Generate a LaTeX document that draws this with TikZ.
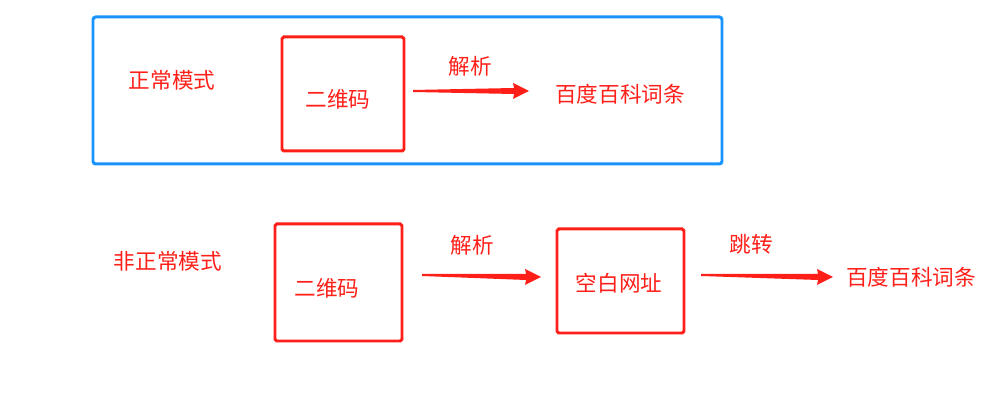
\documentclass[tikz,border=0pt]{standalone}
\usepackage{fontspec}
\setmainfont{Noto Sans CJK SC}
\usetikzlibrary{calc}
\definecolor{modered}{rgb}{1,0.12,0.1}
\definecolor{frameblue}{rgb}{0.1,0.58,1}

\tikzset{
  label/.style={text=modered, font=\fontsize{12.3}{14}\selectfont, inner sep=0pt},
  qrbox/.style={draw=modered, line width=1.7pt, rounded corners=1pt},
}
% tapered red arrow from #1 to #2
\newcommand\taperarrow[2]{%
  \fill[modered] ($(#1)+(0,-1)$) -- ($(#2)+(-15,-3)$) -- ($(#2)+(-16,-8)$) -- (#2)
    -- ($(#2)+(-16,8)$) -- ($(#2)+(-15,3)$) -- ($(#1)+(0,1)$) -- cycle;}

\begin{document}
\begin{tikzpicture}[x=0.02cm, y=-0.02cm]
  \useasboundingbox (0,0) rectangle (981,404);
  % normal mode
  \draw[frameblue, line width=1.7pt, rounded corners=1.5pt] (93,17) rectangle (722,164);
  \node[label] (normal) at (172,80) {正常模式};
  \draw[qrbox] (282,37) rectangle (404,151);
  \node[label] (qr1) at (338,99) {二维码};
  \node[label] (parse1) at (470,66) {解析};
  \coordinate (a1s) at (413,91);
  \coordinate (a1e) at (529,91);
  \taperarrow{a1s}{a1e}
  \node[label] (entry1) at (620,94) {百度百科词条};
  % abnormal mode
  \node[label] (abnormal) at (168,261) {非正常模式};
  \draw[qrbox] (275,224) rectangle (402,341);
  \node[label] (qr2) at (327,288) {二维码};
  \node[label] (parse2) at (472,245) {解析};
  \coordinate (a2s) at (422,275);
  \coordinate (a2e) at (541,277);
  \taperarrow{a2s}{a2e}
  \draw[qrbox] (557,229) rectangle (684,333);
  \node[label] (blank) at (619,283) {空白网址};
  \node[label] (jump) at (751,244) {跳转};
  \coordinate (a3s) at (701,275);
  \coordinate (a3e) at (833,277);
  \taperarrow{a3s}{a3e}
  \node[label] (entry2) at (911,277) {百度百科词条};
\end{tikzpicture}
\end{document}
